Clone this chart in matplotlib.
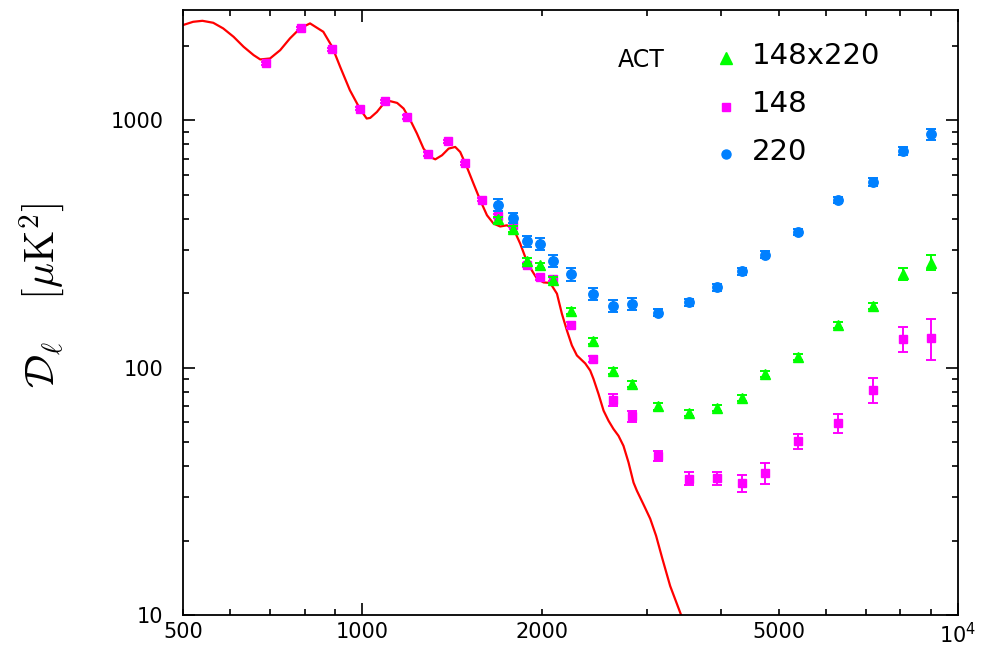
import numpy as np
import matplotlib
matplotlib.use("Agg")
import matplotlib.pyplot as plt
from matplotlib.ticker import NullFormatter

# theory curve
l_th = [500, 520, 539, 562, 584, 608, 632, 657, 674, 700, 728, 756, 786, 817, 860,
        890, 918, 953, 991, 1017, 1031, 1058, 1086, 1114, 1144, 1173, 1204, 1235,
        1267, 1300, 1326, 1361, 1396, 1432, 1460, 1498, 1537, 1578, 1619, 1661, 1704,
        1749, 1794, 1841, 1877, 1926, 1964, 2015, 2067, 2122, 2163, 2206, 2248, 2292,
        2367, 2413, 2444, 2492, 2541, 2590, 2640, 2692, 2744, 2798, 2853, 2890, 2973,
        3043, 3113, 3187, 3287, 3364, 3429]
d_th = [2425, 2500, 2523, 2477, 2351, 2174, 1981, 1833, 1761, 1777, 1920, 2142, 2351,
        2463, 2278, 1981, 1643, 1323, 1111, 1016, 1022, 1080, 1168, 1194, 1175, 1115,
        1000, 884, 768, 710, 695, 722, 768, 780, 744, 647, 554, 474, 413, 382, 372,
        376, 364, 317, 280, 247, 229, 221, 220, 199, 165, 141, 123, 112, 104, 97.3,
        90, 78.2, 67.0, 61.0, 56.5, 53.0, 48.3, 41.4, 34.3, 31.8, 27.6, 24.5, 20.9,
        17.0, 13.1, 11.3, 10.0]

# 148 GHz only bins at low l
l_low = [690, 790, 890, 990, 1090, 1190, 1290, 1390, 1490, 1590]
d148_low = [1697, 2350, 1932, 1111, 1194, 1031, 731, 822, 671, 477]
e148_low = [25, 35, 28, 16, 17, 15, 11, 12, 10, 7]

# ACT bins
l_act = [1690, 1790, 1890, 1990, 2090, 2240, 2440, 2640, 2840, 3140, 3540, 3940,
         4340, 4740, 5390, 6290, 7190, 8100, 9000]
d148 = [409, 376, 259, 232, 229, 149, 108, 74, 63.5, 44, 35.6, 35.7, 34.1, 37.5,
        50.5, 59.7, 81.2, 131, 132]
e148 = [8, 7, 5, 5, 5, 4, 3, 4, 3, 2.2, 2.2, 2.3, 2.8, 3.5, 3.4, 5.4, 9.2, 15.5, 25]
dx = [397, 362, 269, 259, 226, 169, 128, 96.6, 85.9, 69.7, 65.3, 68.4, 75.6, 94.3,
      110, 149, 178, 240, 266]
ex = [11, 10, 7.5, 7, 6, 5, 3.6, 2.7, 2.4, 2, 1.8, 1.9, 2.1, 2.6, 3, 4, 5, 13, 18]
d220 = [456, 402, 324, 317, 271, 238, 198, 178, 181, 167, 184, 211, 245, 286, 355,
        478, 563, 754, 878]
e220 = [26, 19, 18, 18, 15, 14, 11, 10, 10, 6, 6, 7, 8, 9, 10, 13, 19, 29, 47]

x_major = [1000, 10000]
x_major_lab = ["1000", "10$^4$"]
x_minor = [500, 600, 700, 800, 900, 2000, 3000, 4000, 5000, 6000, 7000, 8000, 9000]
x_minor_lab = ["500", "", "", "", "", "2000", "", "", "5000", "", "", "", ""]
y_major = [10, 100, 1000]
y_minor = [20, 30, 40, 50, 60, 70, 80, 90, 200, 300, 400, 500, 600, 700, 800, 900, 2000]

legend_labels = ["148x220", "148", "220"]

pink = "#ff00ff"
green = "#00ff00"
blue = "#0080ff"

plt.rcParams["mathtext.fontset"] = "dejavusans"
fig = plt.figure(figsize=(9.81, 6.46), dpi=100)
ax = fig.add_axes([183/981, 1-615/646, 775/981, 605/646])
ax.set_xscale("log")
ax.set_yscale("log")

ax.plot(l_th, d_th, color="red", lw=1.6, zorder=2)

ax.errorbar(l_low + l_act, d148_low + d148, yerr=e148_low + e148, fmt="s", ms=5.8,
            color=pink, ecolor=pink, elinewidth=1.4, capsize=3.3, capthick=1.4, zorder=3)
ax.errorbar(l_act, dx, yerr=ex, fmt="^", ms=7.4, color=green, ecolor=green,
            elinewidth=1.4, capsize=3.3, capthick=1.4, zorder=4)
ax.errorbar(l_act, d220, yerr=e220, fmt="o", ms=6.8, color=blue, ecolor=blue,
            elinewidth=1.4, capsize=3.6, capthick=1.4, zorder=5)

ax.set_xlim(500, 10000)
ax.set_ylim(10, 2790)

ax.set_xticks(x_major, labels=x_major_lab)
ax.set_xticks(x_minor, labels=x_minor_lab, minor=True)
ax.set_yticks(y_major, labels=[str(v) for v in y_major])
ax.set_yticks(y_minor, minor=True)
ax.yaxis.set_minor_formatter(NullFormatter())

ax.tick_params(which="both", direction="in", top=True, right=True, width=1.2,
               labelsize=15)
ax.tick_params(which="major", length=8.6)
ax.tick_params(which="minor", length=4.3)
ax.tick_params(axis="x", which="both", pad=5)
ax.tick_params(axis="y", which="both", pad=14)
for s in ax.spines.values():
    s.set_linewidth(1.3)

# legend drawn by hand
ax.text(0.561, 0.917, "ACT", transform=ax.transAxes, fontsize=17, va="center", ha="left")
leg_y = [0.9207, 0.8402, 0.7615]
leg_m = [("^", green, 9), ("s", pink, 5.5), ("o", blue, 6.5)]
for yy, (m, c, s), lab in zip(leg_y, leg_m, legend_labels):
    ax.plot([0.7003], [yy], marker=m, color=c, ms=s, ls="none", transform=ax.transAxes)
    ax.text(0.7338, yy + 0.004, lab, transform=ax.transAxes, fontsize=21, va="center",
            ha="left")

fig.text(42/981, 1-295/646, r"$\mathcal{D}_{\ell}$   $[\mu\mathrm{K}^2]$", rotation=90,
         fontsize=30, ha="center", va="center", math_fontfamily="cm")

fig.savefig("out.png", dpi=100)
